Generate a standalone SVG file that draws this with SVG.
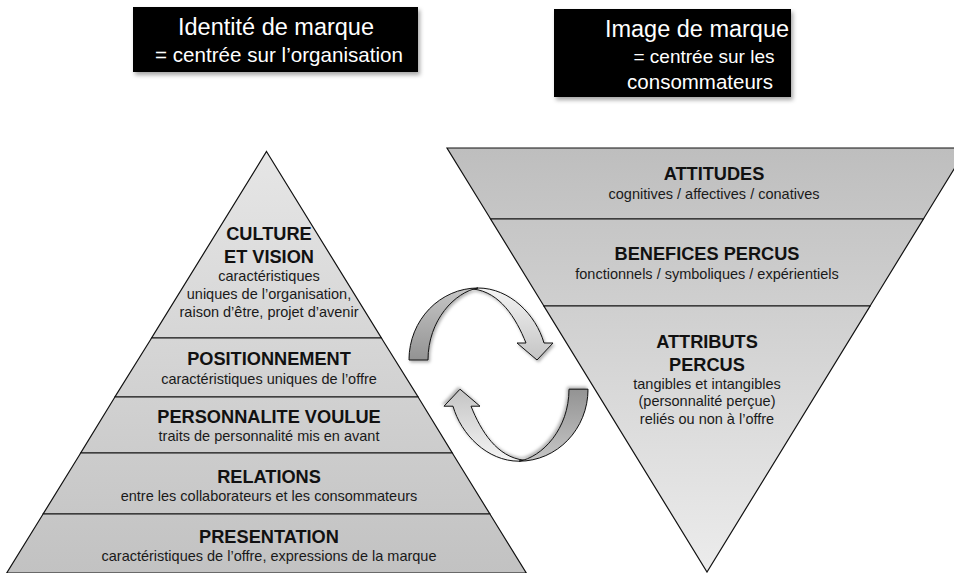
<svg xmlns="http://www.w3.org/2000/svg" width="954" height="573" viewBox="0 0 954 573">
  <style>
    .hdr { fill: #ffffff; font-family: "Liberation Sans", Arial, sans-serif; text-anchor: middle; }
    .t { fill: #111111; font-family: "Liberation Sans", Arial, sans-serif; text-anchor: middle; font-weight: bold; font-size: 18.2px; }
    .s { fill: #1a1a1a; font-family: "Liberation Sans", Arial, sans-serif; text-anchor: middle; font-size: 14.5px; }
    .lay { stroke: #111111; stroke-width: 1.2; stroke-linejoin: miter; }
    .arw { stroke: #111111; stroke-width: 1; stroke-linejoin: round; }
  </style>
  <defs>
    <linearGradient id="gLeft" gradientUnits="userSpaceOnUse" x1="0" y1="151" x2="0" y2="573">
      <stop offset="0" stop-color="#e6e6e6"/>
      <stop offset="1" stop-color="#c2c2c2"/>
    </linearGradient>
    <linearGradient id="gRight" gradientUnits="userSpaceOnUse" x1="0" y1="148" x2="0" y2="572">
      <stop offset="0" stop-color="#bebebe"/>
      <stop offset="1" stop-color="#ececec"/>
    </linearGradient>
    <linearGradient id="gDark" x1="0" y1="0" x2="0" y2="1">
      <stop offset="0" stop-color="#c6c6c6"/>
      <stop offset="1" stop-color="#939393"/>
    </linearGradient>
    <linearGradient id="gLight" x1="0" y1="0" x2="0" y2="1">
      <stop offset="0" stop-color="#f4f4f4"/>
      <stop offset="1" stop-color="#c4c4c4"/>
    </linearGradient>
    <filter id="sh" x="-10%" y="-10%" width="125%" height="135%">
      <feDropShadow dx="2" dy="3" stdDeviation="2" flood-color="#000000" flood-opacity="0.35"/>
    </filter>
    <filter id="sh2" x="-10%" y="-10%" width="125%" height="125%">
      <feDropShadow dx="1.5" dy="2" stdDeviation="1.5" flood-color="#000000" flood-opacity="0.3"/>
    </filter>
  </defs>

  <!-- Headers -->
  <g id="header-identite">
    <rect x="133" y="7" width="285" height="65" fill="#000000" filter="url(#sh)"/>
    <text class="hdr" x="276" y="35" font-size="23.5">Identité de marque</text>
    <text class="hdr" x="279" y="62" font-size="20.6">= centrée sur l’organisation</text>
  </g>
  <g id="header-image">
    <rect x="554" y="9" width="237" height="88" fill="#000000" filter="url(#sh)"/>
    <text class="hdr" x="697" y="37" font-size="23.5">Image de marque</text>
    <text class="hdr" x="704" y="63" font-size="19">= centrée sur les</text>
    <text class="hdr" x="700" y="89" font-size="20.5">consommateurs</text>
  </g>

  <!-- Left pyramid (identité) -->
  <g id="culture-vision">
    <polygon class="lay" fill="url(#gLeft)" points="266.5,151.5 381.4,338 151.6,338"/>
    <text class="t" x="269" y="240">CULTURE</text>
    <text class="t" x="269" y="263">ET VISION</text>
    <text class="s" x="269" y="281">caractéristiques</text>
    <text class="s" x="269" y="299">uniques de l’organisation,</text>
    <text class="s" x="269" y="317">raison d’être, projet d’avenir</text>
  </g>
  <g id="positionnement">
    <polygon class="lay" fill="url(#gLeft)" points="151.6,338 381.4,338 418.1,397 114.9,397"/>
    <text class="t" x="269" y="365">POSITIONNEMENT</text>
    <text class="s" x="269" y="384">caractéristiques uniques de l’offre</text>
  </g>
  <g id="personnalite-voulue">
    <polygon class="lay" fill="url(#gLeft)" points="114.9,397 418.1,397 452.3,453 80.7,453"/>
    <text class="t" x="269" y="423">PERSONNALITE VOULUE</text>
    <text class="s" x="269" y="441">traits de personnalité mis en avant</text>
  </g>
  <g id="relations">
    <polygon class="lay" fill="url(#gLeft)" points="80.7,453 452.3,453 489.9,514 43.1,514"/>
    <text class="t" x="269" y="483">RELATIONS</text>
    <text class="s" x="269" y="501">entre les collaborateurs et les consommateurs</text>
  </g>
  <g id="presentation">
    <polygon class="lay" fill="url(#gLeft)" points="43.1,514 489.9,514 526.3,573 6.7,573"/>
    <text class="t" x="269" y="543">PRESENTATION</text>
    <text class="s" x="269" y="561">caractéristiques de l’offre, expressions de la marque</text>
  </g>

  <!-- Right inverted triangle (image) -->
  <g id="attitudes">
    <polygon class="lay" fill="url(#gRight)" points="447,148 967,148 923.4,219 490.6,219"/>
    <text class="t" x="714" y="180">ATTITUDES</text>
    <text class="s" x="714" y="199">cognitives / affectives / conatives</text>
  </g>
  <g id="benefices-percus">
    <polygon class="lay" fill="url(#gRight)" points="490.6,219 923.4,219 870.1,306 543.9,306"/>
    <text class="t" x="707" y="260">BENEFICES PERCUS</text>
    <text class="s" x="707" y="279">fonctionnels / symboliques / expérientiels</text>
  </g>
  <g id="attributs-percus">
    <polygon class="lay" fill="url(#gRight)" points="543.9,306 870.1,306 707,572"/>
    <text class="t" x="707" y="348">ATTRIBUTS</text>
    <text class="t" x="707" y="371">PERCUS</text>
    <text class="s" x="707" y="389">tangibles et intangibles</text>
    <text class="s" x="707" y="406">(personnalité perçue)</text>
    <text class="s" x="707" y="424">reliés ou non à l’offre</text>
  </g>

  <!-- Connectors: circular arrows -->
  <g id="connectors">
    <g id="arrow-top" filter="url(#sh2)">
      <path class="arw" fill="url(#gLight)" d="M478,288 C510,288 536,315 544,343 L553,343 L537,360 L517,343 L526,343 C516,318 500,292 473,289 Z"/>
      <path class="arw" fill="url(#gDark)" d="M409,360 C409,320 440,288 478,288 C455,292 428,320 428,360 Z"/>
    </g>
    <g id="arrow-bottom" filter="url(#sh2)" transform="rotate(180 498.5 374.6)">
      <path class="arw" fill="url(#gLight)" d="M478,288 C510,288 536,315 544,343 L553,343 L537,360 L517,343 L526,343 C516,318 500,292 473,289 Z"/>
      <path class="arw" fill="url(#gDark)" d="M409,360 C409,320 440,288 478,288 C455,292 428,320 428,360 Z"/>
    </g>
  </g>
</svg>
